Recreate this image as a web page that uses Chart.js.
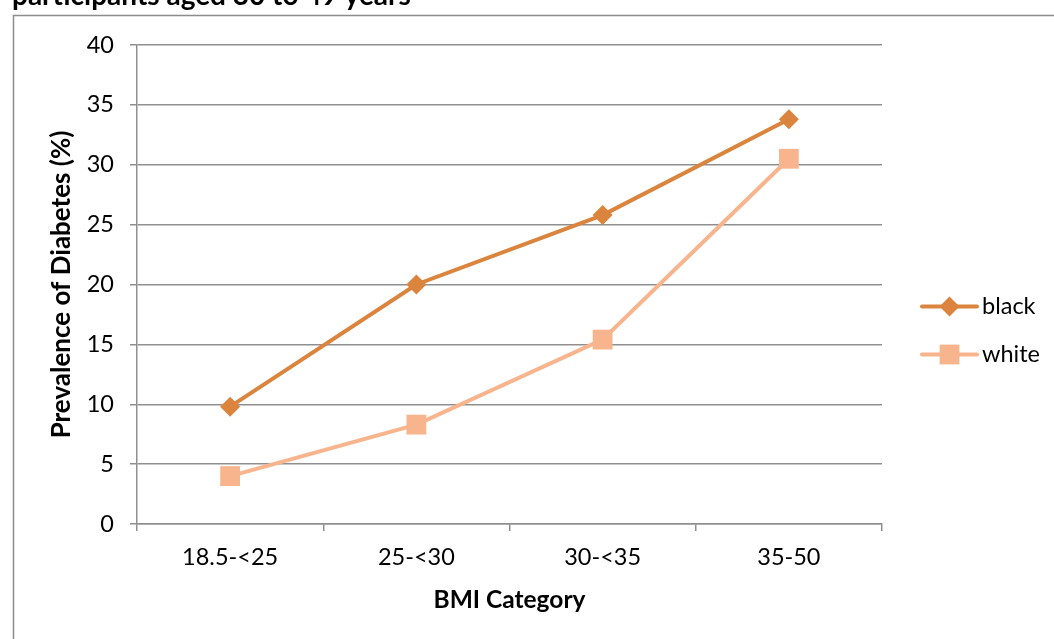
<!DOCTYPE html>
<html>
<head>
<meta charset="utf-8">
<script src="https://cdn.jsdelivr.net/npm/chart.js@4.4.1/dist/chart.umd.min.js"></script>
<style>
  html, body { margin: 0; padding: 0; background: #ffffff; }
  #wrap { width: 1054px; height: 639px; }
</style>
</head>
<body>
<div id="wrap"><canvas id="c" width="1054" height="639"></canvas></div>
<script>
// BMI categories and diabetes prevalence (%) by group
const categories = ['18.5-<25', '25-<30', '30-<35', '35-50'];
const blackValues = [9.8, 20.0, 25.8, 33.8];
const whiteValues = [4.0, 8.3, 15.4, 30.5];
const yTicks = [0, 5, 10, 15, 20, 25, 30, 35, 40];
const seriesNames = ['black', 'white'];
const titleTail = 'participants aged 30 to 49 years';

const BLACK_COLOR = '#DB843D';
const WHITE_COLOR = '#F8B48C';
const GRID_COLOR = '#8f8f8f';
const FONT = 'Lato, "Open Sans", "Liberation Sans", sans-serif';
const TICK_SIZE = 23.5;

// Frame, background and the last line of the heading above the chart box
const framePlugin = {
  id: 'frame',
  beforeDraw(chart) {
    const ctx = chart.ctx;
    ctx.save();
    ctx.fillStyle = '#ffffff';
    ctx.fillRect(0, 0, chart.width, chart.height);
    ctx.strokeStyle = '#8c8c8c';
    ctx.lineWidth = 1.5;
    ctx.beginPath();
    ctx.moveTo(13.5, chart.height + 2);
    ctx.lineTo(13.5, 15.5);
    ctx.lineTo(chart.width + 2, 15.5);
    ctx.stroke();
    ctx.fillStyle = '#000000';
    ctx.font = 'bold 28px ' + FONT;
    ctx.textBaseline = 'alphabetic';
    ctx.textAlign = 'left';
    ctx.fillText(titleTail, 12, 4.5, 446);
    ctx.restore();
  }
};

// Legend entries drawn as line + marker, in the style of each dataset
const lineLegendPlugin = {
  id: 'lineLegend',
  afterDraw(chart) {
    const ctx = chart.ctx;
    const area = chart.chartArea;
    const x0 = area.right + 40;
    const x1 = x0 + 55;
    const yMid = (area.top + area.bottom) / 2 + 46;
    const gap = 48;
    ctx.save();
    chart.data.datasets.forEach((ds, i) => {
      const y = yMid + (i - 0.5) * gap;
      ctx.strokeStyle = ds.borderColor;
      ctx.lineWidth = ds.borderWidth;
      ctx.lineCap = 'round';
      ctx.beginPath();
      ctx.moveTo(x0, y);
      ctx.lineTo(x1, y);
      ctx.stroke();
      const cx = (x0 + x1) / 2;
      ctx.fillStyle = ds.pointBackgroundColor;
      ctx.beginPath();
      if (ds.pointStyle === 'rectRot') {
        const r = ds.pointRadius;
        ctx.moveTo(cx, y - r);
        ctx.lineTo(cx + r, y);
        ctx.lineTo(cx, y + r);
        ctx.lineTo(cx - r, y);
        ctx.closePath();
      } else {
        const h = ds.pointRadius * Math.SQRT1_2;
        ctx.rect(cx - h, y - h, 2 * h, 2 * h);
      }
      ctx.fill();
      ctx.fillStyle = '#000000';
      ctx.font = '23.5px ' + FONT;
      ctx.textAlign = 'left';
      ctx.textBaseline = 'middle';
      ctx.fillText(ds.label, x1 + 5, y);
    });
    ctx.restore();
  }
};

new Chart(document.getElementById('c'), {
  type: 'line',
  data: {
    labels: categories,
    datasets: [
      {
        label: seriesNames[0],
        data: blackValues,
        borderColor: BLACK_COLOR,
        backgroundColor: BLACK_COLOR,
        pointBackgroundColor: BLACK_COLOR,
        pointBorderColor: BLACK_COLOR,
        pointStyle: 'rectRot',
        pointRadius: 10,
        pointBorderWidth: 0,
        borderWidth: 4,
        tension: 0
      },
      {
        label: seriesNames[1],
        data: whiteValues,
        borderColor: WHITE_COLOR,
        backgroundColor: WHITE_COLOR,
        pointBackgroundColor: WHITE_COLOR,
        pointBorderColor: WHITE_COLOR,
        pointStyle: 'rect',
        pointRadius: 14,
        pointBorderWidth: 0,
        borderWidth: 4,
        tension: 0
      }
    ]
  },
  options: {
    responsive: false,
    animation: false,
    layout: { padding: { left: 0, right: 172, top: 45, bottom: 0 } },
    plugins: {
      legend: { display: false },
      tooltip: { enabled: false },
      title: { display: false }
    },
    scales: {
      x: {
        type: 'category',
        offset: true,
        afterFit(scale) { scale.height = 115; },
        grid: {
          offset: true,
          drawOnChartArea: false,
          drawTicks: true,
          tickLength: 7,
          color: GRID_COLOR,
          lineWidth: 1.5
        },
        border: { display: true, color: GRID_COLOR, width: 1.5 },
        ticks: {
          color: '#000000',
          font: { family: FONT, size: TICK_SIZE },
          padding: 12,
          maxRotation: 0
        },
        title: {
          display: true,
          text: 'BMI Category',
          color: '#000000',
          font: { family: FONT, size: 24.5, weight: 'bold' },
          padding: { top: 0, bottom: 24 }
        }
      },
      y: {
        min: 0,
        max: 40,
        afterFit(scale) { scale.width = 137; },
        afterBuildTicks(scale) { scale.ticks = yTicks.map(v => ({ value: v })); },
        grid: {
          color: GRID_COLOR,
          lineWidth: 1.5,
          drawTicks: true,
          tickLength: 7
        },
        border: { display: true, color: GRID_COLOR, width: 1.5 },
        ticks: {
          color: '#000000',
          font: { family: FONT, size: TICK_SIZE },
          padding: 16
        },
        title: {
          display: true,
          text: 'Prevalence of Diabetes (%)',
          color: '#000000',
          font: { family: FONT, size: 26, weight: 'bold' },
          padding: { top: 46, bottom: 0 }
        }
      }
    }
  },
  plugins: [framePlugin, lineLegendPlugin]
});
</script>
</body>
</html>
